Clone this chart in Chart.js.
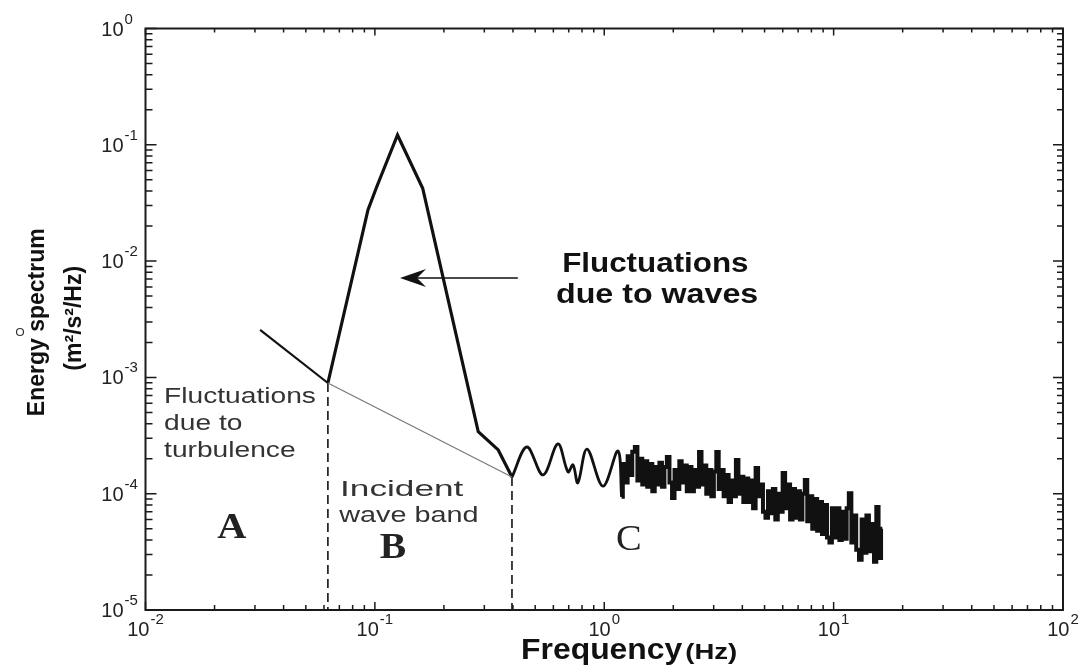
<!DOCTYPE html>
<html><head><meta charset="utf-8">
<script src="https://cdn.jsdelivr.net/npm/chart.js@4.4.0/dist/chart.umd.min.js"></script>
<style>html,body{margin:0;padding:0;background:#fff;}#wrap{width:1083px;height:666px;position:relative;}</style>
</head><body><div id="wrap"><canvas id="c" width="1083" height="666"></canvas></div>
<script>
// ---- data (Hz, m^2/s^2/Hz) ----
const turbulenceFreq   = [0.0316, 0.0624];
const turbulenceEnergy = [2.56e-3, 8.95e-4];

const peakFreq   = [0.0624, 0.0933, 0.1018, 0.1255, 0.1616, 0.2823, 0.345, 0.396];
const peakEnergy = [8.95e-4, 0.0275, 0.0434, 0.1214, 0.0423, 3.41e-4, 2.38e-4, 1.39e-4];

const wavesFreq   = [0.396, 0.460, 0.541, 0.628, 0.695, 0.731, 0.767, 0.841, 0.987, 1.147, 1.19];
const wavesEnergy = [1.39e-4, 2.52e-4, 1.45e-4, 2.68e-4, 1.54e-4, 1.77e-4, 1.24e-4, 2.42e-4, 1.16e-4, 2.33e-4, 9.4e-5];

const noiseFreq = [
  1.19,1.22,1.25,1.28,1.31,1.34,1.38,1.41,1.45,1.48,
  1.52,1.56,1.60,1.64,1.68,1.72,1.76,1.81,1.85,1.90,
  1.95,2.00,2.05,2.10,2.15,2.20,2.26,2.32,2.37,2.43,
  2.49,2.56,2.62,2.69,2.75,2.82,2.89,2.97,3.04,3.12,
  3.19,3.27,3.36,3.44,3.53,3.61,3.70,3.80,3.89,3.99,
  4.09,4.19,4.30,4.40,4.51,4.63,4.74,4.86,4.98,5.11,
  5.24,5.37,5.50,5.64,5.78,5.92,6.07,6.22,6.38,6.54,
  6.70,6.87,7.04,7.22,7.40,7.58,7.77,7.97,8.17,8.37,
  8.58,8.79,9.01,9.24,9.47,9.71,9.95,10.2,10.5,10.7,
  11.0,11.3,11.5,11.8,12.1,12.4,12.7,13.1,13.4,13.7,
  14.1,14.4,14.8,15.2,15.5,15.9,16.3];
const noiseEnergy = [
  9.4e-5,1.8e-4,1.25e-4,2.1e-4,1.45e-4,2.3e-4,2.52e-4,1.3e-4,2.0e-4,1.2e-4,
  1.9e-4,1.15e-4,1.8e-4,1.05e-4,1.7e-4,1.2e-4,1.85e-4,1.15e-4,1.7e-4,2.07e-4,
  1.25e-4,9.2e-5,1.6e-4,1.1e-4,1.9e-4,1.25e-4,1.75e-4,1.05e-4,1.7e-4,1.05e-4,
  1.6e-4,1.15e-4,2.28e-4,1.2e-4,1.75e-4,1.0e-4,1.6e-4,9.5e-5,1.55e-4,2.28e-4,
  1.1e-4,1.6e-4,9.5e-5,1.45e-4,8.5e-5,1.3e-4,9.5e-5,1.95e-4,1.0e-4,1.4e-4,
  8.5e-5,1.35e-4,8.5e-5,1.3e-4,7.5e-5,1.66e-4,9.5e-5,1.2e-4,7e-5,6.2e-5,
  1.05e-4,6.8e-5,1.1e-4,6e-5,1.0e-4,7e-5,1.51e-4,7.5e-5,1.2e-4,6e-5,
  1.1e-4,6.2e-5,1.05e-4,6e-5,1.0e-4,1.31e-4,5.8e-5,9.5e-5,5e-5,9e-5,
  4.8e-5,8.5e-5,4.5e-5,8e-5,4.2e-5,3.8e-5,7.5e-5,4.2e-5,7.5e-5,4e-5,
  7e-5,4.1e-5,7.5e-5,1.01e-4,3.8e-5,6.5e-5,3.3e-5,2.7e-5,6e-5,3.1e-5,
  6.5e-5,3.2e-5,5.5e-5,2.6e-5,7.7e-5,2.8e-5,5e-5];

// background (turbulence) level under the wave peak
const backgroundFreq   = [0.0624, 0.396];
const backgroundEnergy = [8.95e-4, 1.39e-4];

// incident wave band limits (dashed verticals)
const bandLimitFreq   = [0.0624, 0.396];
const bandLimitEnergy = [8.95e-4, 1.39e-4];

// axis ticks (decade exponents)
const xTickExponents = [-2, -1, 0, 1, 2];
const yTickExponents = [-5, -4, -3, -2, -1, 0];

const xTitle = 'Frequency';
const xUnit = '(Hz)';
const yTitle = ['Energy spectrum', '(m\u00B2/s\u00B2/Hz)'];

// annotations in data coordinates
const annotations = [
  {text:'Fluctuations', f:0.01205, e:6.02e-4, font:'22px "Liberation Sans"', sx:1.28, color:'#333'},
  {text:'due to',       f:0.01205, e:3.53e-4, font:'22px "Liberation Sans"', sx:1.28, color:'#333'},
  {text:'turbulence',   f:0.01205, e:2.07e-4, font:'22px "Liberation Sans"', sx:1.28, color:'#333'},
  {text:'Incident',     f:0.0705,  e:9.55e-5, font:'22px "Liberation Sans"', sx:1.6, color:'#333'},
  {text:'wave band',    f:0.0699,  e:5.71e-5, font:'22px "Liberation Sans"', sx:1.31, color:'#333'},
  {text:'Fluctuations', f:1.67, e:8.05e-3, font:'bold 28px "Liberation Sans"', sx:1.12, color:'#111', align:'center'},
  {text:'due to waves', f:1.70, e:4.36e-3, font:'bold 28px "Liberation Sans"', sx:1.15, color:'#111', align:'center'},
  {text:'A', f:0.0238, e:4.16e-5, font:'bold 36px "Liberation Serif"', sx:1.12, color:'#222', align:'center'},
  {text:'B', f:0.120,  e:2.80e-5, font:'bold 36px "Liberation Serif"', sx:1.1, color:'#222', align:'center'},
  {text:'C', f:1.28,   e:3.28e-5, font:'35px "Liberation Serif"', sx:1.1, color:'#222', align:'center'}
];
const arrowFrom = {f:0.42, e:7.16e-3};
const arrowTo   = {f:0.1287, e:7.16e-3};

function pts(fs, es){ return fs.map((f,i)=>({x:f, y:es[i]})); }

function drawText(ctx, text, x, y, font, sx, align, color){
  ctx.save();
  ctx.font = font;
  ctx.fillStyle = color || '#222';
  ctx.textBaseline = 'alphabetic';
  ctx.textAlign = align || 'left';
  ctx.translate(x, y);
  ctx.scale(sx || 1, 1);
  ctx.fillText(text, 0, 0);
  ctx.restore();
}

const decor = {
  id: 'decor',
  afterDraw(chart){
    const ctx = chart.ctx, a = chart.chartArea;
    const xs = chart.scales.x, ys = chart.scales.y;
    ctx.save();
    ctx.strokeStyle = '#1a1a1a';
    ctx.fillStyle = '#1a1a1a';
    // ticks
    ctx.lineWidth = 1.5;
    ctx.beginPath();
    xTickExponents.forEach((e, i) => {
      for (let m = 1; m <= 9; m++) {
        if (i === xTickExponents.length - 1 && m > 1) break;
        const p = xs.getPixelForValue(m * Math.pow(10, e));
        const major = m === 1;
        ctx.moveTo(p, a.bottom); ctx.lineTo(p, a.bottom - (major ? 8 : 5));
        ctx.moveTo(p, a.top);    ctx.lineTo(p, a.top + (major ? 7 : 4));
      }
    });
    yTickExponents.forEach((e, i) => {
      for (let m = 1; m <= 9; m++) {
        if (i === yTickExponents.length - 1 && m > 1) break;
        const p = ys.getPixelForValue(m * Math.pow(10, e));
        const major = m === 1;
        ctx.moveTo(a.left, p);  ctx.lineTo(a.left + (major ? 11 : 7), p);
        ctx.moveTo(a.right, p); ctx.lineTo(a.right - (major ? 10 : 6), p);
      }
    });
    ctx.stroke();
    // frame
    ctx.lineWidth = 2;
    ctx.strokeRect(a.left, a.top, a.right - a.left, a.bottom - a.top);

    // tick labels
    xTickExponents.forEach(e => {
      const p = xs.getPixelForValue(Math.pow(10, e));
      const exp = String(e);
      ctx.font = '20px "Liberation Sans"';
      const w1 = ctx.measureText('10').width;
      ctx.font = '15px "Liberation Sans"';
      const w2 = ctx.measureText(exp).width;
      const x0 = p - (w1 + w2 + 1) / 2;
      drawText(ctx, '10', x0, a.bottom + 26, '20px "Liberation Sans"', 1, 'left', '#222');
      drawText(ctx, exp, x0 + w1 + 1, a.bottom + 14, '15px "Liberation Sans"', 1, 'left', '#222');
    });
    yTickExponents.forEach(e => {
      const p = ys.getPixelForValue(Math.pow(10, e));
      drawText(ctx, '10', a.left - 22, p + 7, '20px "Liberation Sans"', 1, 'right', '#222');
      drawText(ctx, String(e), a.left - 21, p - 5, '15px "Liberation Sans"', 1, 'left', '#222');
    });

    // axis titles
    drawText(ctx, xTitle, 521, 659, 'bold 29px "Liberation Sans"', 1.1, 'left', '#111');
    ctx.font = 'bold 29px "Liberation Sans"';
    const wt = ctx.measureText(xTitle).width * 1.1;
    drawText(ctx, xUnit, 521 + wt + 3, 659, 'bold 22px "Liberation Sans"', 1.25, 'left', '#111');
    const cy = (a.top + a.bottom) / 2;
    ctx.save();
    ctx.translate(44, cy + 3); ctx.rotate(-Math.PI / 2);
    drawText(ctx, yTitle[0], 0, 0, 'bold 23px "Liberation Sans"', 1, 'center', '#111');
    ctx.restore();
    ctx.save();
    ctx.translate(81, cy - 1); ctx.rotate(-Math.PI / 2);
    drawText(ctx, yTitle[1], 0, 0, 'bold 23px "Liberation Sans"', 1, 'center', '#111');
    ctx.restore();
    // small stray circle
    ctx.lineWidth = 1.2; ctx.strokeStyle = '#333';
    ctx.beginPath(); ctx.arc(20, 332, 3.5, 0, Math.PI * 2); ctx.stroke();

    // annotations
    annotations.forEach(t => {
      drawText(ctx, t.text, xs.getPixelForValue(t.f), ys.getPixelForValue(t.e), t.font, t.sx, t.align, t.color);
    });
    // arrow
    const x1 = xs.getPixelForValue(arrowFrom.f), y1 = ys.getPixelForValue(arrowFrom.e);
    const x2 = xs.getPixelForValue(arrowTo.f),   y2 = ys.getPixelForValue(arrowTo.e);
    ctx.strokeStyle = '#111'; ctx.fillStyle = '#111'; ctx.lineWidth = 1.5;
    ctx.beginPath(); ctx.moveTo(x1, y1); ctx.lineTo(x2 + 10, y2); ctx.stroke();
    ctx.beginPath();
    ctx.moveTo(x2, y2);
    ctx.lineTo(x2 + 26, y2 - 9);
    ctx.lineTo(x2 + 17, y2);
    ctx.lineTo(x2 + 26, y2 + 9);
    ctx.closePath(); ctx.fill();
    ctx.restore();
  }
};

const common = {showLine:true, pointRadius:0, fill:false, tension:0, borderColor:'#111'};
new Chart(document.getElementById('c'), {
  type: 'scatter',
  data: {
    datasets: [
      Object.assign({}, common, {label:'background', data: pts(backgroundFreq, backgroundEnergy), borderColor:'#777', borderWidth:1.2}),
      Object.assign({}, common, {label:'limit1', data: [{x:bandLimitFreq[0], y:bandLimitEnergy[0]},{x:bandLimitFreq[0], y:1e-5}], borderWidth:1.6, borderDash:[9,5]}),
      Object.assign({}, common, {label:'limit2', data: [{x:bandLimitFreq[1], y:bandLimitEnergy[1]},{x:bandLimitFreq[1], y:1e-5}], borderWidth:1.6, borderDash:[9,5]}),
      Object.assign({}, common, {label:'turbulence', data: pts(turbulenceFreq, turbulenceEnergy), borderWidth:2.2}),
      Object.assign({}, common, {label:'peak', data: pts(peakFreq, peakEnergy), borderWidth:3.2}),
      Object.assign({}, common, {label:'waves', data: pts(wavesFreq, wavesEnergy), borderWidth:2.8, tension:0.35}),
      Object.assign({}, common, {label:'noise', data: pts(noiseFreq, noiseEnergy), borderWidth:4, stepped:'middle', borderJoinStyle:'miter'})
    ]
  },
  options: {
    responsive: false,
    animation: false,
    devicePixelRatio: 1,
    layout: {padding: {left:145.5, right:20, top:28.5, bottom:56}},
    plugins: {legend:{display:false}, tooltip:{enabled:false}},
    scales: {
      x: {type:'logarithmic', min:0.01, max:100, display:false},
      y: {type:'logarithmic', min:1e-5, max:1, display:false}
    }
  },
  plugins: [decor]
});
</script></body></html>
